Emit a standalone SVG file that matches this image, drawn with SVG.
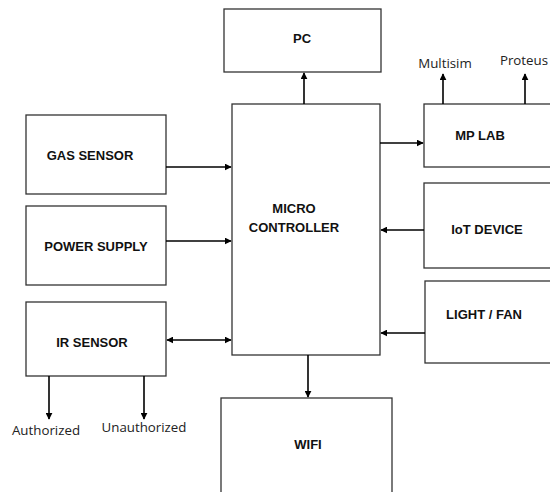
<svg xmlns="http://www.w3.org/2000/svg" width="550" height="492" viewBox="0 0 550 492">
<style>
.box{fill:#fff;stroke:#333;stroke-width:1.3}
.lbl{font-family:"Liberation Sans",Arial,sans-serif;font-weight:bold;font-size:13px;fill:#111;text-anchor:middle}
.sm{font-family:"Open Sans","Liberation Sans",sans-serif;font-size:13.3px;fill:#222;text-anchor:middle}
.ln{stroke:#000;stroke-width:1.6;fill:none}
</style>
<defs>
<marker id="ah" viewBox="0 0 10 10" refX="9" refY="5" markerWidth="7" markerHeight="7" markerUnits="userSpaceOnUse" orient="auto-start-reverse"><path d="M0,0 L10,5 L0,10 z" fill="#000"/></marker>
</defs>
<rect width="550" height="492" fill="#fff"/>
<g id="pc"><rect class="box" x="224" y="9" width="157" height="63"/><text class="lbl" x="302" y="43">PC</text></g>
<g id="micro"><rect class="box" x="232" y="104" width="148" height="251"/><text class="lbl" x="294" y="213">MICRO</text><text class="lbl" x="294" y="232">CONTROLLER</text></g>
<g id="wifi"><rect class="box" x="221" y="398" width="171" height="100"/><text class="lbl" x="308" y="449">WIFI</text></g>
<g id="gas"><rect class="box" x="26" y="115" width="140" height="79"/><text class="lbl" x="90" y="160">GAS SENSOR</text></g>
<g id="power"><rect class="box" x="26" y="206" width="140" height="79"/><text class="lbl" x="96" y="251">POWER SUPPLY</text></g>
<g id="ir"><rect class="box" x="26" y="302" width="140" height="74"/><text class="lbl" x="92" y="347">IR SENSOR</text></g>
<g id="mplab"><rect class="box" x="424" y="104" width="130" height="63"/><text class="lbl" x="480" y="140">MP LAB</text></g>
<g id="iot"><rect class="box" x="424" y="183" width="130" height="85"/><text class="lbl" x="487" y="234">IoT DEVICE</text></g>
<g id="light"><rect class="box" x="425" y="281" width="130" height="82"/><text class="lbl" x="484" y="319">LIGHT / FAN</text></g>
<g id="labels">
<text class="sm" x="445" y="68">Multisim</text>
<text class="sm" x="524" y="65">Proteus</text>
<text class="sm" x="46" y="435">Authorized</text>
<text class="sm" x="144" y="432">Unauthorized</text>
</g>
<g id="connectors">
<line class="ln" x1="304" y1="104" x2="304" y2="73" marker-end="url(#ah)"/>
<line class="ln" x1="308" y1="355" x2="308" y2="397" marker-end="url(#ah)"/>
<line class="ln" x1="166" y1="167" x2="231" y2="167" marker-end="url(#ah)"/>
<line class="ln" x1="166" y1="241" x2="231" y2="241" marker-end="url(#ah)"/>
<line class="ln" x1="167" y1="340" x2="231" y2="340" marker-start="url(#ah)" marker-end="url(#ah)"/>
<line class="ln" x1="49" y1="376" x2="49" y2="419" marker-end="url(#ah)"/>
<line class="ln" x1="144" y1="376" x2="144" y2="419" marker-end="url(#ah)"/>
<line class="ln" x1="380" y1="143" x2="423" y2="143" marker-end="url(#ah)"/>
<line class="ln" x1="424" y1="230" x2="381" y2="230" marker-end="url(#ah)"/>
<line class="ln" x1="425" y1="333" x2="381" y2="333" marker-end="url(#ah)"/>
<line class="ln" x1="443" y1="104" x2="443" y2="74" marker-end="url(#ah)"/>
<line class="ln" x1="525" y1="104" x2="525" y2="74" marker-end="url(#ah)"/>
</g>
</svg>
